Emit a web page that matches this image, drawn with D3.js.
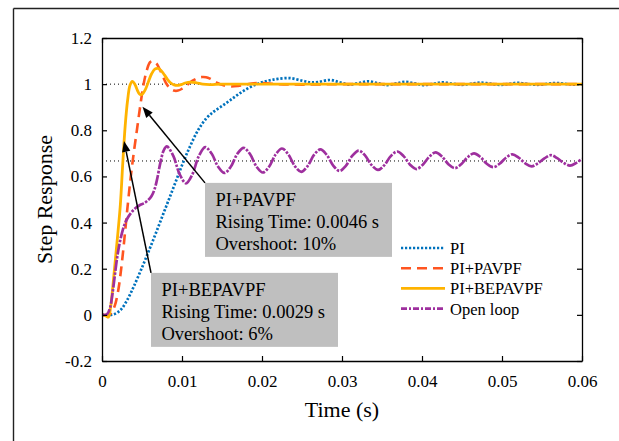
<!DOCTYPE html>
<html><head><meta charset="utf-8">
<script src="https://cdn.jsdelivr.net/npm/d3@7"></script>
<style>
body{margin:0;background:#fff;}
svg{display:block;}
text{font-family:"Liberation Serif","Times New Roman",serif;fill:#000;}
</style>
</head><body>
<svg id="chart" width="619" height="441"></svg>
<script>
// ---------- data ----------
const xTicks = [0, 0.01, 0.02, 0.03, 0.04, 0.05, 0.06];
const xTickLabels = ["0", "0.01", "0.02", "0.03", "0.04", "0.05", "0.06"];
const yTicks = [-0.2, 0, 0.2, 0.4, 0.6, 0.8, 1, 1.2];
const yTickLabels = ["-0.2", "0", "0.2", "0.4", "0.6", "0.8", "1", "1.2"];
const refLevels = [1, 0.667];
const seriesNames = ["PI", "PI+PAVPF", "PI+BEPAVPF", "Open loop"];

const piT = [0,0.001,0.0015,0.002,0.0025,0.003,0.0035,0.004,0.005,0.006,0.007,0.008,0.009,0.01,0.011,0.012,0.013,0.014,0.015,0.016,0.017,0.018,0.019,0.02,0.021,0.022,0.0235,0.025,0.026,0.027,0.0285,0.0297,0.0309,0.0321,0.0333,0.0345,0.0356,0.0368,0.0379,0.0391,0.0403,0.0415,0.0426,0.0438,0.045,0.0462,0.0473,0.0485,0.0497,0.0509,0.052,0.0532,0.0544,0.0556,0.0567,0.0579,0.059,0.06];
const piV = [0,0,0.003,0.012,0.028,0.055,0.088,0.125,0.205,0.29,0.378,0.468,0.558,0.648,0.73,0.8,0.85,0.882,0.905,0.93,0.955,0.977,0.995,1.008,1.017,1.023,1.026,1.015,1.008,1.009,1.018,1.008,0.998,1.005,1.012,1.004,0.996,1.003,1.01,1.003,0.996,1.002,1.008,1.002,0.997,1.002,1.007,1.002,0.997,1.001,1.006,1.001,0.997,1.001,1.005,1.001,0.998,1.0];

const pavT = [0,0.0008,0.0012,0.0016,0.002,0.0024,0.0028,0.0032,0.0036,0.004,0.0044,0.0048,0.0052,0.0056,0.006,0.0064,0.0068,0.0072,0.0076,0.008,0.0085,0.009,0.0095,0.01,0.0105,0.011,0.0115,0.012,0.0125,0.013,0.0135,0.014,0.0145,0.015,0.016,0.017,0.018,0.019,0.02,0.022,0.025,0.03,0.04,0.05,0.06];
const pavV = [0,0,0.01,0.04,0.1,0.2,0.33,0.47,0.6,0.71,0.81,0.91,1.0,1.06,1.095,1.1,1.09,1.065,1.035,1.005,0.982,0.972,0.972,0.98,0.993,1.007,1.018,1.027,1.031,1.03,1.024,1.014,1.004,0.997,0.99,0.992,0.998,1.004,1.005,1.0,0.998,1.0,1.0,1.0,1.0];

const bepT = [0,0.0005,0.0008,0.0011,0.0014,0.0017,0.002,0.0023,0.0026,0.0029,0.0032,0.0035,0.0038,0.0041,0.0044,0.0047,0.005,0.0054,0.0058,0.0062,0.0066,0.007,0.0074,0.0078,0.0082,0.0086,0.009,0.0095,0.01,0.0105,0.011,0.0118,0.0126,0.0135,0.015,0.02,0.03,0.04,0.05,0.06];
const bepV = [0,-0.005,-0.01,0.04,0.14,0.25,0.36,0.48,0.66,0.82,0.93,0.995,1.012,1.0,0.975,0.957,0.955,0.975,1.01,1.045,1.065,1.068,1.058,1.04,1.02,1.005,0.997,0.995,0.999,1.006,1.009,1.006,1.0,0.998,1.0,1.0,1.0,1.0,1.0,1.0];

const olT = [0,0.0006,0.001,0.0013,0.0016,0.0019,0.0022,0.0025,0.0028,0.0032,0.0037,0.0042,0.0047,0.0052,0.0057,0.0062,0.0066,0.0069,0.0073,0.0077,0.0081,
  0.0089,0.0097,0.0105,0.0113,0.0121,
  0.0129,0.0137,0.0145,0.0153,0.0161,0.0169,
  0.0177,0.0185,0.0193,0.0201,0.0209,0.0217,
  0.0225,0.0233,0.0241,0.0249,0.0257,0.0265,
  0.0273,0.0281,0.0289,0.0297,0.0305,0.0313,
  0.0321,0.0329,0.0337,0.0345,0.0353,0.0361,
  0.0369,0.0377,0.0385,0.0393,0.0401,0.0409,
  0.0417,0.0425,0.0433,0.0441,0.0449,0.0457,
  0.0465,0.0473,0.0481,0.0489,0.0497,0.0505,
  0.0513,0.0521,0.0529,0.0537,0.0545,0.0553,
  0.0561,0.0569,0.0577,0.0585,0.0593,0.06];
const olV = [0,0.002,0.03,0.09,0.17,0.25,0.31,0.355,0.39,0.42,0.445,0.463,0.475,0.483,0.495,0.515,0.548,0.59,0.66,0.712,0.73,
  0.69,0.61,0.57,0.609,0.688,
  0.727,0.699,0.643,0.615,0.642,0.697,
  0.724,0.697,0.643,0.617,0.643,0.695,
  0.721,0.695,0.645,0.62,0.645,0.693,
  0.717,0.693,0.647,0.624,0.647,0.69,
  0.712,0.69,0.649,0.628,0.649,0.688,
  0.708,0.688,0.651,0.632,0.651,0.685,
  0.704,0.686,0.653,0.636,0.653,0.683,
  0.7,0.684,0.655,0.64,0.655,0.681,
  0.696,0.681,0.657,0.644,0.657,0.678,
  0.692,0.679,0.659,0.647,0.659,0.676];

// annotations
const annoLines1 = ["PI+PAVPF", "Rising Time: 0.0046 s", "Overshoot: 10%"];
const annoLines2 = ["PI+BEPAVPF", "Rising Time: 0.0029 s", "Overshoot: 6%"];
const annoTip1 = [0.00506, 0.902];
const annoTip2 = [0.00275, 0.754];
const annoBox1 = [0.012875, 0.572];
const annoBox2 = [0.006125, 0.182];

// ---------- layout ----------
const W = 619, H = 441;
const L = 102, R = 582, T = 38, B = 361;
const svg = d3.select("#chart");

const x = d3.scaleLinear().domain([0, 0.06]).range([L, R]);
const y = d3.scaleLinear().domain([-0.2, 1.2]).range([B, T]);

// outer figure frame lines
svg.append("line").attr("x1", 13.5).attr("x2", W).attr("y1", 8.5).attr("y2", 8.5)
  .attr("stroke", "#222").attr("stroke-width", 1.4);
svg.append("line").attr("x1", 13.5).attr("x2", 13.5).attr("y1", 8.5).attr("y2", H)
  .attr("stroke", "#222").attr("stroke-width", 1.4);

svg.append("defs").append("clipPath").attr("id", "clip")
  .append("rect").attr("x", L).attr("y", T).attr("width", R - L).attr("height", B - T);

// reference dotted lines
svg.append("g").selectAll("line").data(refLevels).join("line")
  .attr("x1", L).attr("x2", R)
  .attr("y1", d => y(d)).attr("y2", d => y(d))
  .attr("stroke", "#000").attr("stroke-width", 1)
  .attr("stroke-dasharray", "1,3");

// series
const series = [
  {name: seriesNames[0], t: piT, v: piV, color: "#0072BD", dash: "2.2,1.8", w: 2.7},
  {name: seriesNames[1], t: pavT, v: pavV, color: "#FF5520", dash: "10,6", w: 2.6},
  {name: seriesNames[2], t: bepT, v: bepV, color: "#FFB300", dash: null, w: 2.8},
  {name: seriesNames[3], t: olT, v: olV, color: "#9E2F9E", dash: "11,1.5,2.5,1.5", w: 2.7}
];
const line = d3.line().x(d => x(d[0])).y(d => y(d[1])).curve(d3.curveCatmullRom.alpha(0.5));
const gLines = svg.append("g").attr("clip-path", "url(#clip)");
series.forEach(s => {
  gLines.append("path")
    .attr("d", line(d3.zip(s.t, s.v)))
    .attr("fill", "none")
    .attr("stroke", s.color)
    .attr("stroke-width", s.w)
    .attr("stroke-dasharray", s.dash)
    .attr("stroke-linejoin", "round");
});

// axes (box with inward ticks)
const tickLen = 5;
const axB = d3.axisBottom(x).tickValues(xTicks).tickFormat((d, i) => xTickLabels[i]).tickSizeInner(-tickLen).tickSizeOuter(0).tickPadding(14);
const axT = d3.axisTop(x).tickValues(xTicks).tickFormat("").tickSizeInner(-tickLen).tickSizeOuter(0);
const axL = d3.axisLeft(y).tickValues(yTicks).tickFormat((d, i) => yTickLabels[i]).tickSizeInner(-tickLen).tickSizeOuter(0).tickPadding(10);
const axR = d3.axisRight(y).tickValues(yTicks).tickFormat("").tickSizeInner(-tickLen).tickSizeOuter(0);

function styleAxis(g) {
  g.attr("font-family", null).attr("font-size", null);
  g.select(".domain").attr("stroke", "#000").attr("stroke-width", 1.3);
  g.selectAll(".tick line").attr("stroke", "#000").attr("stroke-width", 1.2);
  g.selectAll(".tick text").style("font-family", '"Liberation Serif","Times New Roman",serif').style("font-size", "17px").attr("fill", "#000");
}
svg.append("g").attr("transform", `translate(0,${B})`).call(axB).call(styleAxis);
svg.append("g").attr("transform", `translate(0,${T})`).call(axT).call(styleAxis);
svg.append("g").attr("transform", `translate(${L},0)`).call(axL).call(styleAxis);
svg.append("g").attr("transform", `translate(${R},0)`).call(axR).call(styleAxis);

// axis labels
svg.append("text").attr("x", (L + R) / 2).attr("y", 417).attr("text-anchor", "middle")
  .style("font-size", "22px").text("Time (s)");
svg.append("text").attr("transform", `translate(52,${(T + B) / 2}) rotate(-90)`).attr("text-anchor", "middle")
  .style("font-size", "22px").text("Step Response");

// annotations
function annotate(box, tip, lines) {
  const bx = x(box[0]), by = y(box[1]);
  const tx = x(tip[0]), ty = y(tip[1]);
  svg.append("rect").attr("x", bx).attr("y", by).attr("width", 187).attr("height", 74).attr("fill", "#BFBFBF");
  lines.forEach((s, i) => {
    svg.append("text").attr("x", bx + 10.5).attr("y", by + 23 + i * 22).style("font-size", "18.5px").text(s);
  });
  const ang = Math.atan2(ty - by, tx - bx);
  const hl = 11, hw = 4.2;
  const baseX = tx - hl * Math.cos(ang), baseY = ty - hl * Math.sin(ang);
  svg.append("line").attr("x1", bx).attr("y1", by).attr("x2", baseX).attr("y2", baseY)
    .attr("stroke", "#000").attr("stroke-width", 1.5);
  const px = -Math.sin(ang), py = Math.cos(ang);
  svg.append("path")
    .attr("d", `M${tx},${ty}L${baseX + hw * px},${baseY + hw * py}L${baseX - hw * px},${baseY - hw * py}Z`)
    .attr("fill", "#000");
}
annotate(annoBox1, annoTip1, annoLines1);
annotate(annoBox2, annoTip2, annoLines2);

// legend
const legX = 401, legY0 = 248, legDy = 20.2;
const leg = svg.append("g");
series.forEach((s, i) => {
  const yy = legY0 + i * legDy;
  leg.append("line").attr("x1", legX).attr("x2", legX + 44).attr("y1", yy).attr("y2", yy)
    .attr("stroke", s.color).attr("stroke-width", s.w).attr("stroke-dasharray", s.name === "Open loop" ? "6,2,2,2" : s.dash);
  leg.append("text").attr("x", legX + 49).attr("y", yy + 6).style("font-size", "16.5px").text(s.name);
});
</script>
</body></html>
